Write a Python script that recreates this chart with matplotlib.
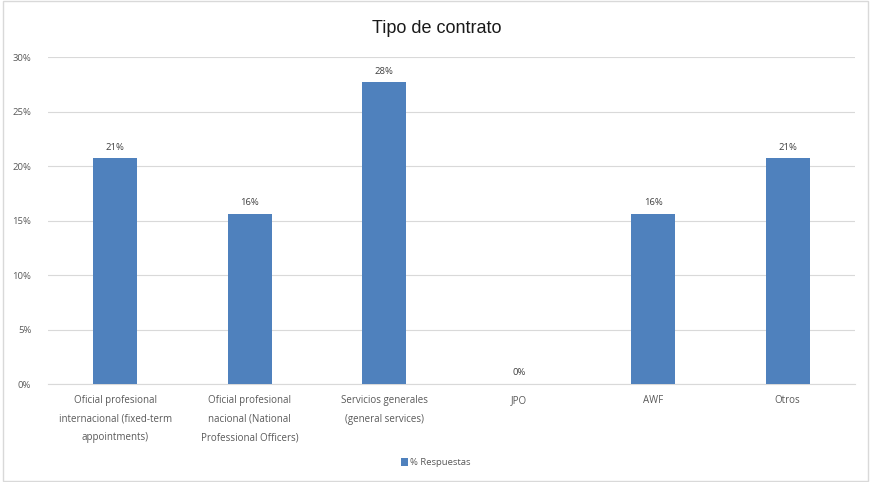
import matplotlib
matplotlib.use("Agg")
import matplotlib.pyplot as plt
import numpy as np

# Datos del grafico
categorias = [
    "Oficial profesional\ninternacional (fixed-term\nappointments)",
    "Oficial profesional\nnacional (National\nProfessional Officers)",
    "Servicios generales\n(general services)",
    "JPO",
    "AWF",
    "Otros",
]
valores = [0.207, 0.156, 0.277, 0.0, 0.156, 0.207]
etiquetas = ["21%", "16%", "28%", "0%", "16%", "21%"]
yticks = [0, 0.05, 0.10, 0.15, 0.20, 0.25, 0.30]
ytick_labels = ["0%", "5%", "10%", "15%", "20%", "25%", "30%"]

plt.rcParams['font.family'] = ['Open Sans', 'DejaVu Sans']

fig = plt.figure(figsize=(8.71, 4.82), dpi=100)
ax = fig.add_axes([0.0551, 0.2033, 0.9265, 0.6784])

x = np.arange(len(categorias))
color = '#4f81bd'
barras = ax.bar(x, valores, width=0.33, color=color, label='% Respuestas', zorder=3)

for xi, v, t in zip(x, valores, etiquetas):
    ax.text(xi, v + 0.006, t, ha='center', va='bottom', fontsize=6.8, color='#404040')

ax.set_xlim(-0.5, len(categorias) - 0.5)
ax.set_ylim(0, 0.30)
ax.set_yticks(yticks)
ax.set_yticklabels(ytick_labels, fontsize=6.8, color='#595959')
ax.set_xticks(x)
ax.set_xticklabels(categorias, fontsize=7, color='#595959', linespacing=1.95)
ax.tick_params(axis='y', length=0, pad=12)
ax.tick_params(axis='x', length=0, pad=8)
ax.grid(axis='y', color='#d9d9d9', linewidth=0.8, zorder=0)
for s in ['top', 'right', 'left']:
    ax.spines[s].set_visible(False)
ax.spines['bottom'].set_color('#d9d9d9')

fig.text(0.502, 0.94, "Tipo de contrato", ha='center', va='center',
         fontsize=13, family=['Liberation Sans', 'DejaVu Sans'], color='#1a1a1a')

ax.legend(loc='center', bbox_to_anchor=(0.5, 0.04), bbox_transform=fig.transFigure,
          frameon=False, fontsize=6.8, handlelength=0.8, handleheight=0.8,
          handletextpad=0.2, labelcolor='#595959')

# marco exterior
fig.patches.append(plt.Rectangle((0.003, 0.003), 0.994, 0.994, transform=fig.transFigure,
                                 fill=False, edgecolor='#d9d9d9', linewidth=1))

fig.savefig("out.png", dpi=100)
